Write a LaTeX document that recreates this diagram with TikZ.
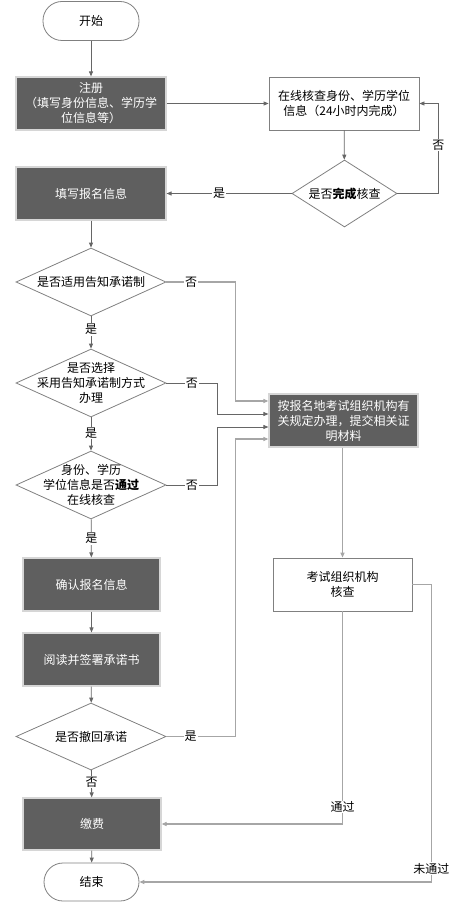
\documentclass[tikz,border=0pt]{standalone}
\usepackage{fontspec}
\setmainfont{Noto Sans CJK SC}
\usetikzlibrary{shapes.geometric,arrows.meta}
\definecolor{darkbox}{HTML}{5F5F5F}
\definecolor{darkrim}{HTML}{D6D6D6}
\definecolor{rim}{HTML}{808080}
\definecolor{flow}{HTML}{666666}
\definecolor{pale}{HTML}{A6A6A6}

\begin{document}
\begin{tikzpicture}[x=1pt, y=-1pt,
  font=\fontsize{12}{15}\selectfont,
  every node/.style={inner sep=0pt, align=center},
  pill/.style={draw=rim, line width=0.8pt, rounded corners=19pt, minimum width=96pt, minimum height=39pt},
  dark/.style={fill=darkbox, draw=darkrim, line width=1.2pt, text=white, minimum width=150pt, minimum height=53pt},
  plain/.style={draw=rim, line width=0.8pt, minimum width=150pt, minimum height=53pt},
  dec/.style={diamond, draw=rim, line width=0.8pt, minimum width=150pt, minimum height=68pt},
  lab/.style={fill=white, inner sep=1pt},
  arr/.style={draw=flow, line width=0.8pt, -{Triangle[length=5pt, width=4pt]}},
  parr/.style={draw=pale, line width=1.2pt, -{Triangle[length=5pt, width=4pt, fill=flow]}}]
\useasboundingbox (0,0) rectangle (470,909);

% left column
\node [pill] (start) at (91,21) {开始};
\node [dark] (reg) at (91,103.5) {注册\\（填写身份信息、学历学\\位信息等）};
\node [dark] (fill) at (91,193.5) {填写报名信息};
\node [dec] (q1) at (91,282) {};
\node (q1t) at (q1) {是否适用告知承诺制};
\node [dec] (q2) at (91,383) {};
\node (q2t) at (q2) {是否选择\\采用告知承诺制方式\\办理};
\node [dec] (q3) at (91,485) {};
\node (q3t) at (q3) {身份、学历\\学位信息是否\textbf{通过}\\在线核查};
\node [dark, minimum width=137pt] (cfm) at (91.5,584.5) {确认报名信息};
\node [dark, minimum width=137pt] (sign) at (91.5,659.5) {阅读并签署承诺书};
\node [dec, minimum height=67pt] (q4) at (91,736.5) {};
\node (q4t) at (q4) {是否撤回承诺};
\node [dark, minimum width=138pt, minimum height=52pt] (pay) at (92,824) {缴费};
\node [pill, minimum width=95pt, minimum height=38pt] (stop) at (91.5,882) {结束};

% right column
\node [plain] (chk) at (344,103.5) {在线核查身份、学历学位\\信息（24小时内完成）};
\node [dec, minimum width=105pt, minimum height=67pt] (done) at (344.5,193.5) {};
\node (donet) at (done) {是否\textbf{完成}核查};
\node [dark, minimum width=149pt] (alt) at (343.5,420.5) {按报名地考试组织机构有\\关规定办理，提交相关证\\明材料};
\node [plain, minimum width=139pt] (org) at (342.5,584.5) {考试组织机构\\核查};

% main flow
\draw [arr] (start) -- (reg);
\draw [arr] (reg) -- (chk);
\draw [arr] (chk) -- (done);
\draw [arr] (done.west) -- node [lab, pos=0.58] {是} (fill.east);
\draw [arr] (done.east) -- ++(41,0) |- node [lab, pos=0.27] {否} (chk.east);
\draw [arr] (fill) -- (q1);
\draw [arr] (q1) -- node [lab, pos=0.4] {是} (q2);
\draw [arr] (q2) -- node [lab, pos=0.47] {是} (q3);
\draw [arr] (q3) -- node [lab, pos=0.5] {是} (cfm);
\draw [arr] (cfm) -- (sign);
\draw [arr] (sign) -- (q4);
\draw [arr] (q4) -- node [lab, pos=0.43] {否} (pay);
\draw [arr] (pay) -- (stop);

% to the other procedure
\draw [parr] (q1.east) -- node [lab, pos=0.36] {否} ++(69,0) |- ([yshift=19.5pt]alt.west);
\draw [arr] (q2.east) -- node [lab, pos=0.5] {否} ++(51,0) |- ([yshift=6.5pt]alt.west);
\draw [arr] (q3.east) -- node [lab, pos=0.5] {否} ++(51,0) |- ([yshift=-6.5pt]alt.west);
\draw [parr] (q4.east) -- node [lab, pos=0.35] {是} ++(69,0) |- ([yshift=-18.5pt]alt.west);
\draw [parr] (alt.south -| org.north) -- (org.north);
\draw [parr] (org.south) |- node [lab, pos=0.46] {通过} (pay.east);
\draw [parr] (org.east) -- ++(19,0) |- node [lab, pos=0.478] {未通过} (stop.east);
\end{tikzpicture}
\end{document}
